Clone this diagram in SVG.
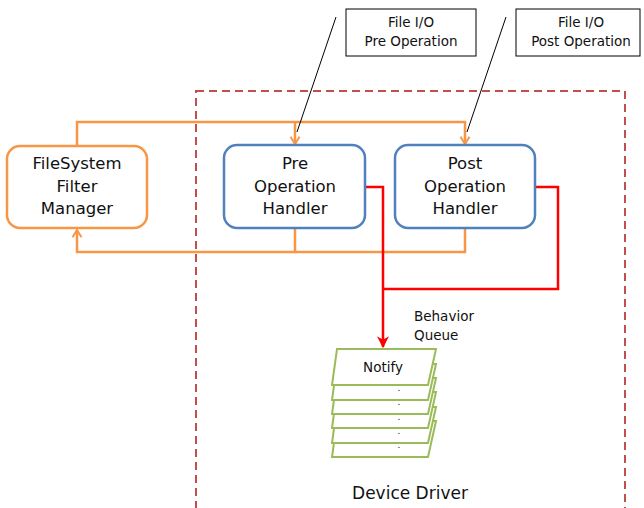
<svg xmlns="http://www.w3.org/2000/svg" width="644" height="508" viewBox="0 0 644 508">
<defs>
<style>
text{font-family:"DejaVu Sans","Liberation Sans",sans-serif;fill:#111;text-anchor:middle}
.node{fill:#fff;stroke-width:2.5}
.fm{stroke:#F79646}
.h{stroke:#4F81BD}
.o{fill:none;stroke:#F79646;stroke-width:2.5}
.r{fill:none;stroke:#FF0000;stroke-width:2.5}
.call{fill:#fff;stroke:#000;stroke-width:1}
.sheet{fill:#fff;stroke:#9BBB59;stroke-width:2}
.big{font-size:16.5px}
.sm{font-size:13.5px}
</style>
<marker id="chev" viewBox="0 0 10 12" refX="9" refY="6" markerWidth="9" markerHeight="11" orient="auto" markerUnits="userSpaceOnUse">
<path d="M1,1 L9,6 L1,11" fill="none" stroke="#F79646" stroke-width="2.2"/>
</marker>
<marker id="tri" viewBox="0 0 10 10" refX="9" refY="5" markerWidth="12" markerHeight="12" orient="auto" markerUnits="userSpaceOnUse">
<path d="M0,0 L10,5 L0,10 L3,5 z" fill="#FF0000"/>
</marker>
</defs>
<rect x="196" y="91" width="429" height="430" fill="none" stroke="#C0504D" stroke-width="2" stroke-dasharray="8,5"/>
<text x="410" y="499" style="font-size:17px">Device Driver</text>
<g id="connectors">
<path class="o" d="M77,146 V122 H465 V144" marker-end="url(#chev)"/>
<path class="o" d="M295,122 V144" marker-end="url(#chev)"/>
<path class="o" d="M295,229 V252 H77 V230" marker-end="url(#chev)"/>
<path class="o" d="M465,229 V252 H295"/>
<path class="r" d="M366,187 H383 V347" marker-end="url(#tri)"/>
<path class="r" d="M536,187 H558 V289 H383"/>
<line x1="336" y1="17" x2="297" y2="132" stroke="#000" stroke-width="1"/>
<line x1="506" y1="17" x2="467" y2="132" stroke="#000" stroke-width="1"/>
</g>
<g id="callout-pre">
<rect class="call" x="346" y="9" width="130" height="47"/>
<text class="sm" x="411" y="27">File I/O</text>
<text class="sm" x="411" y="46">Pre Operation</text>
</g>
<g id="callout-post">
<rect class="call" x="516" y="9" width="124" height="47"/>
<text class="sm" x="581" y="27">File I/O</text>
<text class="sm" x="581" y="46">Post Operation</text>
</g>
<g id="filter-manager">
<rect class="node fm" x="7" y="146" width="140" height="82" rx="13"/>
<text class="big" x="77" y="169">FileSystem</text>
<text class="big" x="77" y="192">Filter</text>
<text class="big" x="77" y="214">Manager</text>
</g>
<g id="pre-handler">
<rect class="node h" x="224" y="145" width="141" height="83" rx="13"/>
<text class="big" x="295" y="169">Pre</text>
<text class="big" x="295" y="192">Operation</text>
<text class="big" x="295" y="214">Handler</text>
</g>
<g id="post-handler">
<rect class="node h" x="395" y="145" width="140" height="83" rx="13"/>
<text class="big" x="465" y="169">Post</text>
<text class="big" x="465" y="192">Operation</text>
<text class="big" x="465" y="214">Handler</text>
</g>
<g id="behavior-queue">
<text class="sm" x="414" y="321" style="text-anchor:start">Behavior</text>
<text class="sm" x="414" y="340" style="text-anchor:start">Queue</text>
<polygon class="sheet" points="337,421 436,421 428,457 332,457"/>
<polygon class="sheet" points="337,407 436,407 428,443 332,443"/>
<polygon class="sheet" points="337,392 436,392 428,428 332,428"/>
<polygon class="sheet" points="337,378 436,378 428,414 332,414"/>
<polygon class="sheet" points="337,364 436,364 428,400 332,400"/>
<polygon class="sheet" points="337,349 436,349 428,385 332,385"/>
<text class="sm" x="383" y="372">Notify</text>
<text x="399" y="391" style="font-size:9px">.</text>
<text x="399" y="405" style="font-size:9px">.</text>
<text x="399" y="420" style="font-size:9px">.</text>
<text x="399" y="434" style="font-size:9px">.</text>
<text x="399" y="448" style="font-size:9px">.</text>
</g>
</svg>
